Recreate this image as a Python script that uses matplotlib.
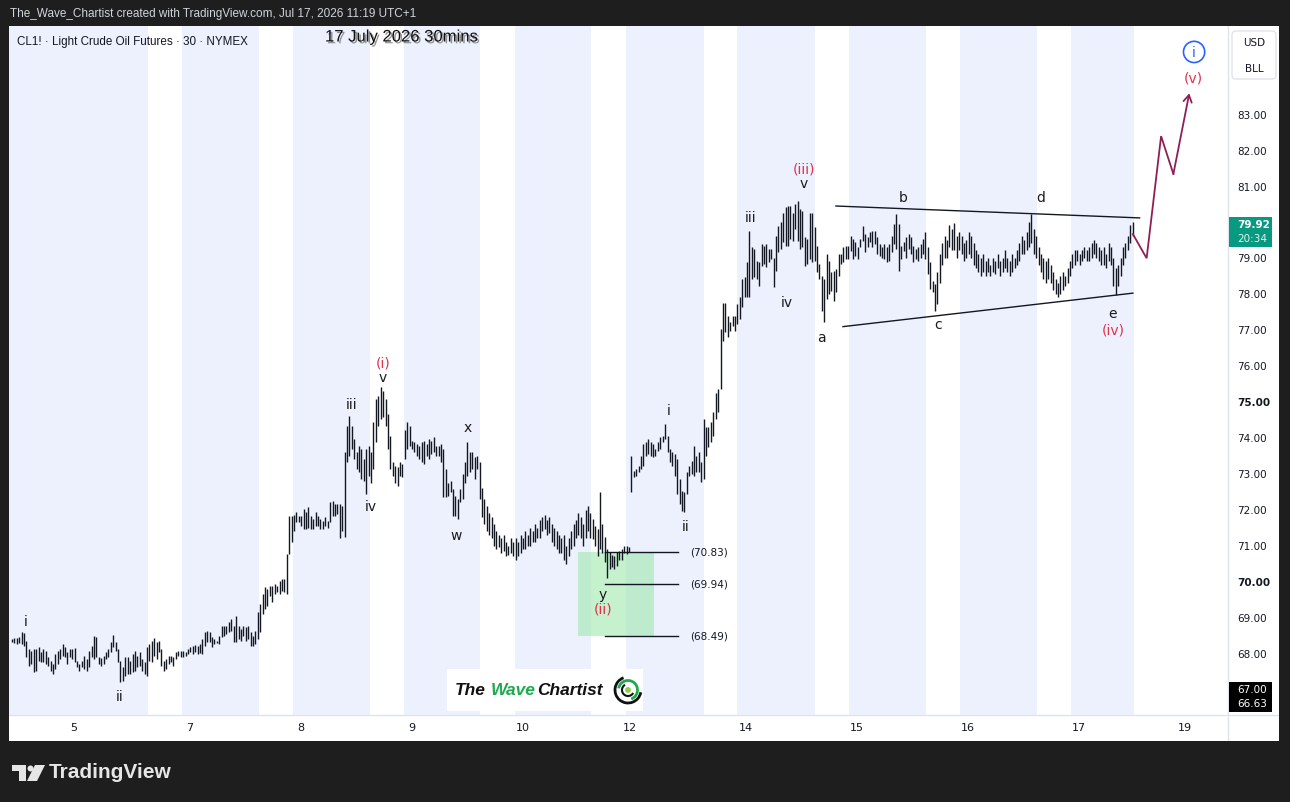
import numpy as np
import matplotlib
matplotlib.use('Agg')
import matplotlib.pyplot as plt
from matplotlib.patches import Rectangle, FancyBboxPatch, Polygon, Circle, Arc
from matplotlib.transforms import IdentityTransform
import matplotlib.patheffects as pe

plt.rcParams['font.family'] = ['DejaVu Sans']

W, H = 1290, 803

# CL1! 30 min bars (high / low), one line per session stretch
highs = [
    68.40,68.42,68.43,68.45,68.59,68.56,68.36,68.12,68.08,68.12,68.12,68.17,68.05,68.12,68.08,67.89,67.80,67.71,67.99,68.08,
    68.12,68.26,68.17,68.03,68.12,68.12,68.14,67.80,67.71,67.80,67.94,67.85,68.08,68.22,68.50,68.45,67.89,67.87,67.94,68.03,
    68.12,68.31,68.51,68.31,68.12,67.80,67.62,67.89,67.89,67.80,67.99,68.08,67.94,68.03,67.85,67.76,68.17,
    68.26,68.36,68.42,68.33,68.36,68.12,67.80,67.85,67.92,67.94,67.89,68.03,68.08,68.06,
    68.08,68.05,68.12,68.17,68.22,68.25,68.22,68.26,68.40,68.59,68.63,68.59,68.45,68.40,68.36,68.50,68.77,68.77,68.77,68.87,
    68.96,68.77,69.05,68.77,68.68,68.77,68.73,68.77,68.59,68.50,68.63,69.14,
    69.37,69.65,69.84,69.79,69.88,69.88,69.93,69.88,70.02,70.07,70.07,70.76,71.83,71.83,
    71.85,71.92,71.83,71.83,72.01,71.92,72.06,71.83,71.73,71.92,71.83,71.73,71.69,71.78,71.69,72.20,72.25,72.15,72.15,72.15,
    72.10,73.59,74.33,74.61,74.33,73.96,73.59,73.77,73.68,73.40,73.68,73.77,
    73.59,74.42,75.07,75.16,75.39,75.30,75.07,74.65,74.05,73.31,73.22,73.17,73.31,73.26,
    74.20,74.42,74.33,73.91,73.87,73.82,73.77,73.87,73.91,73.82,73.96,73.91,74.01,73.77,73.77,73.82,73.68,73.12,72.75,72.80,
    72.57,72.38,72.29,72.57,72.99,73.31,73.87,73.59,73.59,73.45,73.50,73.31,
    72.60,72.30,72.10,71.90,71.80,71.60,71.40,71.30,71.20,71.30,71.10,71.00,71.20,71.10,
    71.20,71.10,71.30,71.20,71.40,71.30,71.50,71.40,71.60,71.50,71.70,71.80,71.85,71.70,71.80,71.60,71.50,71.40,71.30,71.20,
    71.30,71.00,71.20,71.40,71.60,71.70,71.90,71.80,71.60,72.00,72.10,71.90,
    71.74,71.55,71.46,72.48,71.60,71.23,70.90,70.81,70.75,70.70,70.81,70.86,70.90,70.98,71.00,70.95,
    73.50,73.08,73.12,73.22,73.50,73.82,73.87,73.96,73.87,73.82,73.68,73.87,74.01,74.05,74.37,74.05,73.68,73.59,73.54,73.40,
    72.85,72.52,72.48,73.03,73.22,73.36,73.77,73.50,73.59,73.31,
    74.51,74.28,74.28,74.42,74.70,75.25,75.35,77.01,77.75,77.75,77.38,77.20,77.38,77.38,
    77.71,77.89,78.40,78.45,78.87,79.74,79.28,79.24,78.91,78.87,79.37,79.33,79.37,79.24,79.24,79.00,79.61,79.88,79.98,80.25,
    80.39,80.44,80.44,80.25,80.49,80.58,80.35,80.30,79.56,79.51,80.25,80.25,
    79.84,79.33,78.82,78.49,78.40,79.10,78.91,78.59,78.63,78.68,79.10,79.10,79.28,79.33,
    79.33,79.61,79.51,79.42,79.28,79.51,79.88,79.65,79.56,79.70,79.75,79.75,79.56,79.37,79.28,79.37,79.28,79.37,79.61,79.93,
    80.21,79.93,79.33,79.42,79.56,79.65,79.56,79.33,79.24,79.28,79.37,79.51,
    79.70,79.28,78.87,78.36,78.26,78.60,79.10,79.40,79.60,79.50,79.90,79.80,79.95,79.60,
    79.70,79.60,79.40,79.50,79.70,79.60,79.40,79.20,79.10,79.00,79.10,78.90,79.00,78.80,79.00,78.90,79.10,78.90,79.00,79.20,
    79.00,78.90,79.10,79.00,79.20,79.40,79.60,79.50,79.70,80.00,80.20,79.80,
    79.60,79.30,79.10,79.00,78.90,79.00,78.80,78.60,78.40,78.30,78.50,78.60,78.50,78.70,
    78.90,79.10,79.20,79.20,79.10,79.20,79.30,79.20,79.30,79.40,79.50,79.40,79.30,79.20,79.30,79.10,79.40,79.30,79.00,78.70,
    78.80,79.00,79.30,79.40,79.60,79.90,80.00,
]
lows = [
    68.31,68.29,68.26,68.29,68.26,68.22,67.89,67.66,67.71,67.48,67.52,67.80,67.76,67.76,67.71,67.66,67.52,67.43,67.57,67.71,
    67.85,67.94,67.89,67.71,67.89,67.85,67.76,67.62,67.52,67.62,67.57,67.52,67.62,67.89,67.85,67.89,67.71,67.66,67.71,67.85,
    67.89,68.03,68.17,68.08,67.76,67.20,67.25,67.38,67.43,67.43,67.48,67.52,67.62,67.66,67.52,67.43,67.38,
    67.80,67.77,67.94,67.85,68.03,67.66,67.52,67.57,67.71,67.76,67.66,67.85,67.94,67.89,
    67.89,67.94,67.99,68.03,67.99,68.03,67.99,68.01,67.99,68.22,68.31,68.31,68.17,68.26,68.29,68.26,68.45,68.50,68.54,68.59,
    68.63,68.31,68.31,68.40,68.36,68.50,68.36,68.40,68.22,68.22,68.26,68.40,
    68.59,69.10,69.24,69.33,69.60,69.42,69.65,69.70,69.65,69.75,69.70,69.65,70.76,71.09,
    71.40,71.64,71.64,71.55,71.46,71.46,71.50,71.46,71.46,71.55,71.55,71.46,71.46,71.55,71.50,71.64,71.83,71.83,71.87,71.20,
    71.40,71.25,73.31,73.50,73.68,73.40,73.12,73.03,72.85,72.80,72.43,72.94,
    72.75,73.12,73.87,74.33,74.51,74.56,74.33,73.68,73.12,72.94,72.75,72.66,72.94,72.89,
    73.40,73.68,73.77,73.68,73.59,73.50,73.40,73.31,73.26,73.50,73.40,73.54,73.59,73.50,73.50,73.31,72.34,72.34,72.38,72.48,
    71.83,71.83,71.73,72.20,72.29,72.75,72.94,73.03,73.12,72.85,73.12,72.29,
    71.80,71.60,71.40,71.30,71.20,71.00,70.90,70.95,70.80,70.85,70.70,70.75,70.80,70.70,
    70.60,70.70,70.80,70.90,70.90,71.00,71.00,71.10,71.10,71.20,71.20,71.40,71.45,71.30,71.35,71.10,71.00,70.90,70.80,70.80,
    70.60,70.50,70.70,70.90,71.00,71.20,71.30,71.20,71.00,71.20,71.40,71.20,
    71.18,71.00,70.72,70.90,70.80,70.53,70.11,70.35,70.40,70.35,70.44,70.60,70.60,70.80,70.76,70.81,
    72.48,72.89,72.94,73.03,73.12,73.22,73.50,73.54,73.50,73.45,73.50,73.63,73.68,73.87,73.96,73.59,73.31,73.22,72.94,72.43,
    72.15,71.97,71.92,72.43,72.94,72.99,72.94,73.03,73.03,72.76,
    72.85,73.50,73.73,73.87,74.05,74.51,74.70,75.35,76.69,76.92,76.78,76.97,77.11,76.97,
    77.15,77.29,77.62,77.89,77.89,77.89,78.40,78.45,78.40,78.22,78.77,78.82,78.73,78.87,78.96,78.17,78.63,79.14,79.24,79.42,
    79.33,79.33,79.51,79.47,79.79,79.47,79.24,79.28,78.77,78.82,78.96,78.87,
    78.91,78.59,78.40,77.52,77.20,77.85,77.99,78.08,77.80,78.03,78.50,78.82,78.87,78.96,
    78.96,79.19,78.96,79.05,78.96,79.28,79.47,79.14,79.28,79.42,79.28,79.37,79.10,79.05,79.00,78.96,78.87,78.91,79.14,79.38,
    79.24,78.63,78.96,79.19,79.00,79.24,79.10,78.87,78.96,78.91,79.00,79.10,
    78.96,78.54,78.12,78.03,77.52,77.70,78.30,78.80,79.00,79.00,79.30,79.20,79.20,79.00,
    79.20,79.10,78.90,79.00,79.10,79.00,78.80,78.70,78.60,78.50,78.60,78.50,78.60,78.50,78.60,78.55,78.70,78.50,78.60,78.70,
    78.60,78.50,78.60,78.70,78.80,78.90,79.10,79.10,79.20,79.30,79.40,79.10,
    79.00,78.80,78.60,78.40,78.30,78.40,78.30,78.10,78.00,77.90,78.00,78.10,78.20,78.30,
    78.50,78.70,78.80,78.90,78.80,78.90,79.00,78.90,78.90,79.00,79.10,79.00,78.90,78.80,78.80,78.70,78.90,78.80,78.20,77.95,
    78.20,78.50,78.80,79.00,79.20,79.40,79.60,
]

# time axis: bar position of each day label
day_pos = [25.7, 73.9, 119.9, 166.0, 212.0, 256.4, 304.6, 350.6, 396.7, 442.7, 486.7]
day_lab = ['5', '7', '8', '9', '10', '12', '14', '15', '16', '17', '19']

# off-session stretches (white), everything else up to the last bar is shaded
off_start = [56.4, 102.5, 148.5, 194.2, 240.2, 287.1, 333.2, 379.3, 425.3, 465.6]
off_end = [70.5, 116.6, 162.7, 208.7, 254.8, 300.8, 347.3, 393.4, 439.4, 504.6]

price_ticks = [68, 69, 70, 71, 72, 73, 74, 75, 76, 77, 78, 79, 81, 82, 83]
last_price = 79.92
countdown = '20:34'
low_marks = [67.00, 66.63]

# elliott wave labels (bar, price)
wave_lbl = ['i', 'ii', 'iii', 'iv', 'v', 'x', 'w', 'y', 'i', 'ii', 'iii', 'iv', 'v', 'a', 'b', 'c', 'd', 'e']
wave_x = [5.8, 44.8, 141.1, 149.0, 153.9, 189.2, 184.2, 245.2, 272.6, 279.7, 306.6, 321.6, 328.6, 335.7, 369.7, 384.2, 427.0, 456.8]
wave_y = [68.90, 66.82, 74.93, 72.10, 75.68, 74.29, 71.28, 69.66, 74.76, 71.54, 80.13, 77.76, 81.07, 76.79, 80.68, 77.15, 80.68, 77.46]

deg_lbl = ['(i)', '(ii)', '(iii)', '(iv)', '(v)']
deg_x = [153.9, 245.2, 328.6, 456.8, 490.0]
deg_y = [76.07, 69.24, 81.46, 77.01, 83.99]

# wave (ii) target levels and zone
fib_vals = [70.83, 69.94, 68.49]
fib_x = [246.1, 276.3]
zone_x = [234.9, 266.4]
zone_y = [68.49, 70.83]

# triangle trend lines
tri_up_x, tri_up_y = [341.9, 467.9], [80.43, 80.10]
tri_lo_x, tri_lo_y = [344.8, 465.1], [77.08, 78.01]

# projected path for wave (v)
proj_x = [465.1, 470.8, 476.8, 481.9, 488.5]
proj_y = [79.65, 78.98, 82.37, 81.32, 83.56]


# screen pixel -> bar / price (chart scale: 2.41 px per bar, 36 px per dollar)
def fx(px):
    return (px - 12) / 2.41


def fy(py):
    return 70 + (582.5 - py) / 36


fig = plt.figure(figsize=(W / 100, H / 100), dpi=100, facecolor='#1e1e1e')
ax = fig.add_axes([9 / W, 1 - 742 / H, 1270 / W, 715 / H])
ax.set_facecolor('white')
ax.set_xlim(fx(9), fx(1279))
ax.set_ylim(fy(742), fy(27))
for s in ax.spines.values():
    s.set_visible(False)

pane_r = fx(1228)
pane_b = fy(716)
top = fy(27)

# session shading
blue = '#edf1fd'
starts = [fx(9)] + off_end[:-1]
for a, b in zip(starts, off_start):
    ax.add_patch(Rectangle((a, pane_b), b - a, top - pane_b, fc=blue, ec='none', zorder=0.5))

# green zone + levels
ax.add_patch(Rectangle((zone_x[0], zone_y[0]), zone_x[1] - zone_x[0], zone_y[1] - zone_y[0],
                       fc='#9fe8ad', ec='none', alpha=0.6, zorder=1))
for v in fib_vals:
    ax.plot(fib_x, [v, v], color='#131722', lw=1.0, zorder=2)
    ax.text(fib_x[1] + 5, v, f'({v:.2f})', fontsize=7.5, color='#131722', va='center', ha='left', zorder=5)

# price bars
xs = np.arange(len(highs))
ax.vlines(xs, lows, highs, colors='#131722', lw=1.0, zorder=3)

# triangle
ax.plot(tri_up_x, tri_up_y, color='#131722', lw=1.0, zorder=4)
ax.plot(tri_lo_x, tri_lo_y, color='#131722', lw=1.0, zorder=4)

# projection
pc = '#8e1f55'
ax.plot(proj_x[:-1], proj_y[:-1], color=pc, lw=1.3, zorder=4, solid_joinstyle='miter')
ax.annotate('', xy=(proj_x[-1], proj_y[-1]), xytext=(proj_x[-2], proj_y[-2]),
            arrowprops=dict(arrowstyle='->,head_length=0.5,head_width=0.3', color=pc, lw=1.3,
                            shrinkA=0, shrinkB=0), zorder=4)

# wave labels
for t, x, y in zip(wave_lbl, wave_x, wave_y):
    ax.text(x, y, t, fontsize=10, color='#1a1a1a', ha='center', va='center', zorder=5)
for t, x, y in zip(deg_lbl, deg_x, deg_y):
    ax.text(x, y, t, fontsize=10, color='#e0314b', ha='center', va='center', zorder=5)
ax.text(490.5, 84.71, 'i', fontsize=10, color='#2962ff', ha='center', va='center', zorder=5,
        bbox=dict(boxstyle='circle,pad=0.26', fc='white', ec='#2962ff', lw=1.2))

# pane separators
ax.plot([pane_r, pane_r], [fy(742), top], color='#e0e3eb', lw=1.0, zorder=6)
ax.axhline(pane_b, color='#e0e3eb', lw=1.0, zorder=6)

# axes ticks
ax.set_xticks(day_pos)
ax.set_xticklabels(day_lab)
ax.tick_params(axis='x', length=0, pad=-14, labelsize=8, labelcolor='#131722')
ax.yaxis.tick_right()
ax.set_yticks(price_ticks)
ax.set_yticklabels([f'{p:.2f}' for p in price_ticks])
ax.tick_params(axis='y', length=0, pad=-30, labelsize=7.5, labelcolor='#131722')
for lab, p in zip(ax.get_yticklabels(), price_ticks):
    if p % 5 == 0:
        lab.set_fontweight('bold')

# last price and low labels on the price scale
bx0, bx1 = fx(1229), fx(1272)
ax.add_patch(Rectangle((bx0, last_price - 0.63), bx1 - bx0, 0.833, fc='#089981', ec='none', zorder=7))
ax.text(fx(1237), last_price + 0.01, f'{last_price:.2f}', fontsize=7.5, color='white',
        fontweight='bold', va='center', ha='left', zorder=8)
ax.text(fx(1237), last_price - 0.39, countdown, fontsize=7.5, color='#dff5ef', va='center', ha='left', zorder=8)
ax.add_patch(Rectangle((bx0, fy(713)), bx1 - bx0, fy(683) - fy(713), fc='black', ec='none', zorder=7))
for v in low_marks:
    ax.text(fx(1237), v, f'{v:.2f}', fontsize=7.5, color='white', va='center', ha='left', zorder=8)

# figure chrome in screen pixels
pix = IdentityTransform()
fig.text(10, H - 14, 'The_Wave_Chartist created with TradingView.com, Jul 17, 2026 11:19 UTC+1',
         transform=pix, color='#d1d4dc', fontsize=8.5, family='Liberation Sans', va='center')
fig.text(17, H - 42, 'CL1! \u00b7 Light Crude Oil Futures \u00b7 30 \u00b7 NYMEX', transform=pix,
         color='#131722', fontsize=8.4, family='Liberation Sans', va='center')
fig.text(325, H - 38, '17 July 2026 30mins', transform=pix, color='#111111', fontsize=12,
         family='Liberation Sans', va='center',
         path_effects=[pe.withSimplePatchShadow(offset=(1.3, -1.3), shadow_rgbFace='#7a7a7a', alpha=0.8)])

# currency / unit box
fig.add_artist(FancyBboxPatch((1232, H - 80), 44, 48, boxstyle='round,pad=0,rounding_size=4',
                              transform=pix, fc='white', ec='#e0e3eb', lw=1))
fig.text(1254, H - 43, 'USD', transform=pix, fontsize=7.5, color='#131722', ha='center', va='center')
fig.text(1254, H - 69, 'BLL', transform=pix, fontsize=7.5, color='#131722', ha='center', va='center')

# watermark
fig.add_artist(Rectangle((447, H - 712), 196, 42, transform=pix, fc='white', ec='none'))
wm = dict(transform=pix, fontsize=12.5, fontweight='bold', style='italic', family='Liberation Sans', va='center')
fig.text(455, H - 691, 'The', color='#111111', **wm)
fig.text(491, H - 691, 'Wave', color='#1faa50', **wm)
fig.text(537, H - 691, 'Chartist', color='#111111', **wm)
cx, cy = 628, H - 691
fig.add_artist(Arc((cx, cy), 26, 26, theta1=110, theta2=350, transform=pix, color='#111111', lw=2.0))
fig.add_artist(Arc((cx, cy), 19, 19, theta1=290, theta2=170, transform=pix, color='#1faa50', lw=2.0))
fig.add_artist(Arc((cx, cy), 12, 12, theta1=120, theta2=330, transform=pix, color='#111111', lw=1.5))
fig.add_artist(Circle((cx, cy), 2.2, transform=pix, color='#8bd14a'))

# TradingView footer logo
lc = '#e6e6e6'
fig.add_artist(Rectangle((12, H - 772), 14, 6, transform=pix, fc=lc, ec='none'))
fig.add_artist(Rectangle((19, H - 782), 7, 16, transform=pix, fc=lc, ec='none'))
fig.add_artist(Circle((30.5, H - 769.5), 3.0, transform=pix, fc=lc, ec='none'))
fig.add_artist(Polygon([(35, H - 766), (45, H - 766), (37, H - 782), (27, H - 782)], closed=True,
                       transform=pix, fc=lc, ec='none'))
fig.text(49, H - 773, 'TradingView', transform=pix, fontsize=15, fontweight='bold', color=lc,
         family='Liberation Sans', va='center')

fig.savefig('out.png', dpi=100, facecolor=fig.get_facecolor())
